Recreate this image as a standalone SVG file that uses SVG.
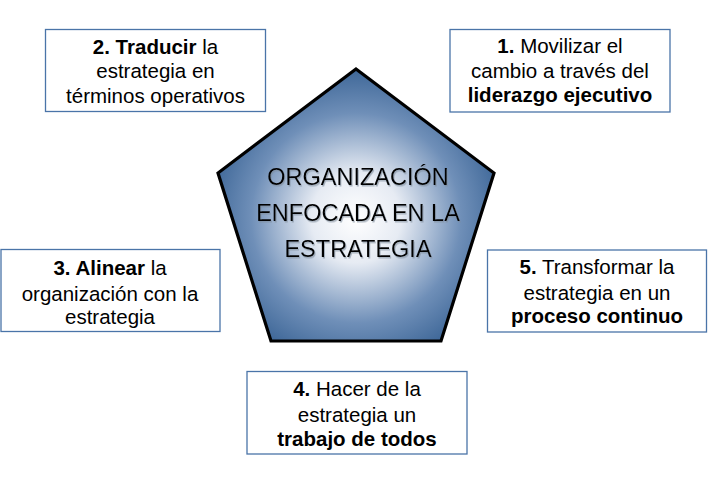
<svg xmlns="http://www.w3.org/2000/svg" width="708" height="484" viewBox="0 0 708 484">
  <style>
    .box { fill: #ffffff; stroke: #4a74a8; stroke-width: 1.3; }
    .t { font-family: "Liberation Sans", Arial, sans-serif; font-size: 20.5px; fill: #000; text-anchor: middle; }
    .b { font-weight: bold; }
    .c { font-family: "Liberation Sans", Arial, sans-serif; font-size: 23.5px; fill: #000; text-anchor: middle; filter: url(#sh); }
  </style>
  <defs>
    <radialGradient id="g" cx="356" cy="218" r="150" gradientUnits="userSpaceOnUse">
      <stop offset="0" stop-color="#ffffff"/>
      <stop offset="0.3" stop-color="#e6ebf3"/>
      <stop offset="0.7" stop-color="#6f8fb8"/>
      <stop offset="1" stop-color="#3d6697"/>
    </radialGradient>
    <filter id="sh" x="-10%" y="-30%" width="120%" height="160%">
      <feDropShadow dx="1" dy="1.5" stdDeviation="0.6" flood-color="#7d8a9a" flood-opacity="0.6"/>
    </filter>
  </defs>
  <rect width="708" height="484" fill="#ffffff"/>
  <g id="connectors"></g>
  <g id="center">
    <polygon points="356,69 494,173 441,341 271,341 218,173" fill="url(#g)" stroke="#000" stroke-width="3.2" stroke-linejoin="miter"/>
    <text class="c" x="358" y="185">ORGANIZACIÓN</text>
    <text class="c" x="358" y="221">ENFOCADA EN LA</text>
    <text class="c" x="358" y="256.5">ESTRATEGIA</text>
  </g>
  <g id="node1">
    <rect class="box" x="450" y="29.5" width="220" height="82.5"/>
    <text class="t" x="560" y="53"><tspan class="b">1.</tspan> Movilizar el</text>
    <text class="t" x="560" y="77.5">cambio a través del</text>
    <text class="t" x="560" y="101.5"><tspan class="b">liderazgo ejecutivo</tspan></text>
  </g>
  <g id="node2">
    <rect class="box" x="45.5" y="29.5" width="220" height="82"/>
    <text class="t" x="155.5" y="54"><tspan class="b">2. Traducir</tspan> la</text>
    <text class="t" x="155.5" y="78">estrategia en</text>
    <text class="t" x="155.5" y="103">términos operativos</text>
  </g>
  <g id="node3">
    <rect class="box" x="1" y="249.5" width="219" height="82"/>
    <text class="t" x="110" y="275"><tspan class="b">3. Alinear</tspan> la</text>
    <text class="t" x="110" y="300.5">organización con la</text>
    <text class="t" x="110" y="324">estrategia</text>
  </g>
  <g id="node4">
    <rect class="box" x="247" y="371.5" width="220" height="82.5"/>
    <text class="t" x="357" y="396"><tspan class="b">4.</tspan> Hacer de la</text>
    <text class="t" x="357" y="421.5">estrategia un</text>
    <text class="t" x="357" y="446"><tspan class="b">trabajo de todos</tspan></text>
  </g>
  <g id="node5">
    <rect class="box" x="487.5" y="250" width="219" height="82"/>
    <text class="t" x="597" y="274"><tspan class="b">5.</tspan> Transformar la</text>
    <text class="t" x="597" y="299.5">estrategia en un</text>
    <text class="t" x="597" y="323"><tspan class="b">proceso continuo</tspan></text>
  </g>
</svg>
